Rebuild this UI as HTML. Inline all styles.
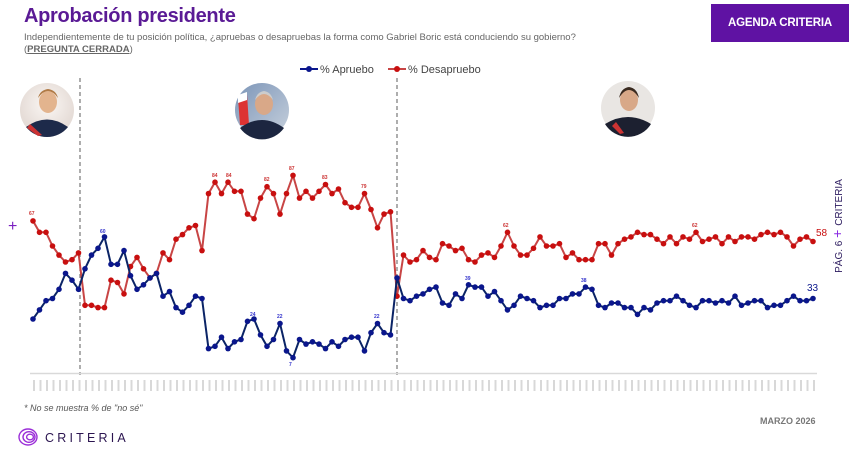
<!DOCTYPE html>
<html><head><meta charset="utf-8"><style>
body{margin:0;width:849px;height:451px;background:#fff;overflow:hidden;position:relative;font-family:"Liberation Sans",sans-serif}
.t{position:absolute;white-space:nowrap}
</style></head><body>
<div class="t" style="left:24px;top:5px;font-size:20px;font-weight:bold;color:#5a1a95;letter-spacing:-0.3px">Aprobación presidente</div>
<div class="t" style="left:24px;top:32px;font-size:9.5px;color:#666">Independientemente de tu posición política, ¿apruebas o desapruebas la forma como Gabriel Boric está conduciendo su gobierno?</div>
<div class="t" style="left:24px;top:44px;font-size:9.5px;color:#666">(<b style="text-decoration:underline">PREGUNTA CERRADA</b>)</div>
<div style="position:absolute;left:711px;top:4px;width:138px;height:38px;background:#5f12a3;color:#fff;font-weight:bold;font-size:11.5px;display:flex;align-items:center;justify-content:center;letter-spacing:-0.2px">AGENDA CRITERIA</div>

<svg width="849" height="451" style="position:absolute;left:0;top:0">
<defs>
<marker id="mr" markerUnits="userSpaceOnUse" markerWidth="8" markerHeight="8" refX="4" refY="4"><circle cx="4" cy="4" r="2.8" fill="#c80f0f"/></marker>
<marker id="mb" markerUnits="userSpaceOnUse" markerWidth="8" markerHeight="8" refX="4" refY="4"><circle cx="4" cy="4" r="2.8" fill="#0a168c"/></marker>
<pattern id="xl" x="31" y="0" width="6.5" height="20" patternUnits="userSpaceOnUse"><rect x="2" y="0" width="2" height="14" fill="#d8d8d8"/></pattern>
<radialGradient id="g1" cx="50%" cy="40%"><stop offset="0" stop-color="#fbf7f4"/><stop offset="1" stop-color="#e6ddd8"/></radialGradient>
<linearGradient id="g2" x1="0" y1="0" x2="1" y2="1"><stop offset="0" stop-color="#7c95b8"/><stop offset="1" stop-color="#c6d0dc"/></linearGradient>
</defs>
<line x1="300" y1="69" x2="318" y2="69" stroke="#0a168c" stroke-width="2"/><circle cx="309" cy="69" r="3" fill="#0a168c"/>
<text x="320" y="73" font-size="11" fill="#444" font-family="Liberation Sans">% Apruebo</text>
<line x1="388" y1="69" x2="406" y2="69" stroke="#c84545" stroke-width="2"/><circle cx="397" cy="69" r="3" fill="#c80f0f"/>
<text x="408" y="73" font-size="11" fill="#444" font-family="Liberation Sans">% Desapruebo</text>
<circle cx="47" cy="110" r="27" fill="url(#g1)"/>
<path d="M26 127 Q47 112 68 127 A27 27 0 0 1 26 127Z" fill="#1d2a4a"/>
<path d="M30 124 L42 135 L38 136 L27 128Z" fill="#c33"/>
<ellipse cx="48" cy="102" rx="9" ry="11" fill="#e3b48e"/><path d="M38 98 Q48 84 58 98 Q56 90 48 89 Q40 90 38 98Z" fill="#b07a45"/>
<circle cx="262" cy="110" r="27" fill="url(#g2)"/>
<path d="M238 98 L247 94 L249 125 L240 125Z" fill="#d33"/><path d="M238 95 L247 92 L247 100 L238 103Z" fill="#fff"/>
<path d="M240 128 Q262 112 284 128 A27 27 0 0 1 240 128Z" fill="#1c2640"/>
<ellipse cx="264" cy="104" rx="9" ry="11" fill="#d9a888"/><path d="M255 100 Q264 88 273 100 Q271 92 264 91 Q257 92 255 100Z" fill="#ccc"/>
<circle cx="628" cy="108" r="27" fill="#e9e6e3"/>
<path d="M605 124 Q628 110 651 124 A27 27 0 0 1 605 124Z" fill="#1c2030"/>
<ellipse cx="629" cy="100" rx="9" ry="11" fill="#d8a888"/><path d="M619 98 Q629 82 639 98 Q637 88 629 87 Q621 88 619 98Z" fill="#3a2a20"/>
<path d="M616 122 L624 133 L620 134 L612 126Z" fill="#c33"/>
<line x1="80" y1="78" x2="80" y2="375" stroke="#777" stroke-width="1.2" stroke-dasharray="4,3"/>
<line x1="397" y1="78" x2="397" y2="375" stroke="#777" stroke-width="1.2" stroke-dasharray="4,3"/>
<line x1="30" y1="373.5" x2="817" y2="373.5" stroke="#d9d9d9" stroke-width="1.5"/>
<rect x="31" y="377" width="786" height="14" fill="url(#xl)"/>
<polyline fill="none" stroke="#c84545" stroke-width="2" marker-start="url(#mr)" marker-mid="url(#mr)" marker-end="url(#mr)" points="33,220.9 39.5,232.3 46,232.3 52.5,246.0 59,255.1 65.5,262.0 72,259.7 78.5,252.9 85,305.3 91.5,305.3 98,307.6 104.5,307.6 111,280.2 117.5,282.5 124,293.9 130.5,266.5 137,257.4 143.5,268.8 150,277.9 156.5,273.4 163,252.9 169.5,259.7 176,239.2 182.5,234.6 189,227.8 195.5,225.5 202,250.6 208.5,193.6 215,182.2 221.5,193.6 228,182.2 234.5,191.3 241,191.3 247.5,214.1 254,218.7 260.5,198.1 267,186.7 273.5,193.6 280,214.1 286.5,193.6 293,175.4 299.5,198.1 306,191.3 312.5,198.1 319,191.3 325.5,184.5 332,193.6 338.5,189.0 345,202.7 351.5,207.3 358,207.3 364.5,193.6 371,209.5 377.5,227.8 384,214.1 390.5,211.8 397,296.2 403.5,255.1 410,262.0 416.5,259.7 423,250.6 429.5,257.4 436,259.7 442.5,243.7 449,246.0 455.5,250.6 462,248.3 468.5,259.7 475,262.0 481.5,255.1 488,252.9 494.5,257.4 501,246.0 507.5,232.3 514,246.0 520.5,255.1 527,255.1 533.5,248.3 540,236.9 546.5,246.0 553,246.0 559.5,243.7 566,257.4 572.5,252.9 579,259.7 585.5,259.7 592,259.7 598.5,243.7 605,243.7 611.5,255.1 618,243.7 624.5,239.2 631,236.9 637.5,232.3 644,234.6 650.5,234.6 657,239.2 663.5,243.7 670,236.9 676.5,243.7 683,236.9 689.5,239.2 696,232.3 702.5,241.5 709,239.2 715.5,236.9 722,243.7 728.5,236.9 735,241.5 741.5,236.9 748,236.9 754.5,239.2 761,234.6 767.5,232.3 774,234.6 780.5,232.3 787,236.9 793.5,246.0 800,239.2 806.5,236.9 813,241.5"/>
<polyline fill="none" stroke="#0b2466" stroke-width="2" marker-start="url(#mb)" marker-mid="url(#mb)" marker-end="url(#mb)" points="33,319.0 39.5,309.9 46,300.7 52.5,298.5 59,289.3 65.5,273.4 72,280.2 78.5,289.3 85,268.8 91.5,255.1 98,248.3 104.5,236.9 111,264.3 117.5,264.3 124,250.6 130.5,275.7 137,289.3 143.5,284.8 150,277.9 156.5,273.4 163,296.2 169.5,291.6 176,307.6 182.5,312.2 189,305.3 195.5,296.2 202,298.5 208.5,348.6 215,346.3 221.5,337.2 228,348.6 234.5,341.8 241,339.5 247.5,321.3 254,319.0 260.5,334.9 267,346.3 273.5,339.5 280,323.5 286.5,350.9 293,357.7 299.5,339.5 306,344.1 312.5,341.8 319,344.1 325.5,348.6 332,341.8 338.5,346.3 345,339.5 351.5,337.2 358,337.2 364.5,350.9 371,332.7 377.5,323.5 384,332.7 390.5,334.9 397,277.9 403.5,298.5 410,300.7 416.5,296.2 423,293.9 429.5,289.3 436,287.1 442.5,303.0 449,305.3 455.5,293.9 462,298.5 468.5,284.8 475,287.1 481.5,287.1 488,296.2 494.5,291.6 501,300.7 507.5,309.9 514,305.3 520.5,296.2 527,298.5 533.5,300.7 540,307.6 546.5,305.3 553,305.3 559.5,298.5 566,298.5 572.5,293.9 579,293.9 585.5,287.1 592,289.3 598.5,305.3 605,307.6 611.5,303.0 618,303.0 624.5,307.6 631,307.6 637.5,314.4 644,307.6 650.5,309.9 657,303.0 663.5,300.7 670,300.7 676.5,296.2 683,300.7 689.5,305.3 696,307.6 702.5,300.7 709,300.7 715.5,303.0 722,300.7 728.5,303.0 735,296.2 741.5,305.3 748,303.0 754.5,300.7 761,300.7 767.5,307.6 774,305.3 780.5,305.3 787,300.7 793.5,296.2 800,300.7 806.5,300.7 813,298.5"/>
<g font-family="Liberation Sans" font-size="5" font-weight="bold">
<text x="29" y="215" fill="#c33">67</text><text x="100" y="233" fill="#33c">60</text><text x="289" y="170" fill="#c33">87</text><text x="289" y="366" fill="#33c">7</text><text x="503" y="227" fill="#c33">62</text><text x="581" y="282" fill="#33c">38</text>
<text x="212" y="177" fill="#c33">84</text><text x="226" y="177" fill="#c33">84</text><text x="264" y="181" fill="#c33">82</text><text x="322" y="179" fill="#c33">83</text><text x="361" y="188" fill="#c33">79</text>
<text x="250" y="316" fill="#33c">24</text><text x="277" y="318" fill="#33c">22</text><text x="374" y="318" fill="#33c">22</text><text x="465" y="280" fill="#33c">39</text><text x="692" y="227" fill="#c33">62</text>
</g>
<text x="816" y="236" font-family="Liberation Sans" font-size="10" fill="#c80f0f">58</text>
<text x="807" y="291" font-family="Liberation Sans" font-size="10" fill="#0a168c">33</text>
<text x="8" y="231" font-family="Liberation Sans" font-size="16" fill="#7a1fc0">+</text>
<text transform="translate(842,226) rotate(-90)" text-anchor="middle" font-family="Liberation Sans" font-size="10" fill="#2b1a5e">PÁG. 6 <tspan fill="#8a2be2" font-size="14">  +  </tspan>CRITERIA</text>
<g fill="none" stroke="#9b2fd8" stroke-width="1.4"><ellipse cx="28" cy="437" rx="9" ry="8"/><ellipse cx="29" cy="437" rx="6" ry="5.3"/><ellipse cx="30" cy="437" rx="3.4" ry="2.8"/></g>
<text x="45" y="442" font-family="Liberation Sans" font-size="12.5" letter-spacing="3.2" fill="#2b1550">CRITERIA</text>
</svg>
<div class="t" style="left:24px;top:403px;font-size:9px;font-style:italic;color:#555">* No se muestra % de "no sé"</div>
<div class="t" style="left:760px;top:416px;font-size:9px;font-weight:bold;color:#777">MARZO 2026</div>
</body></html>
